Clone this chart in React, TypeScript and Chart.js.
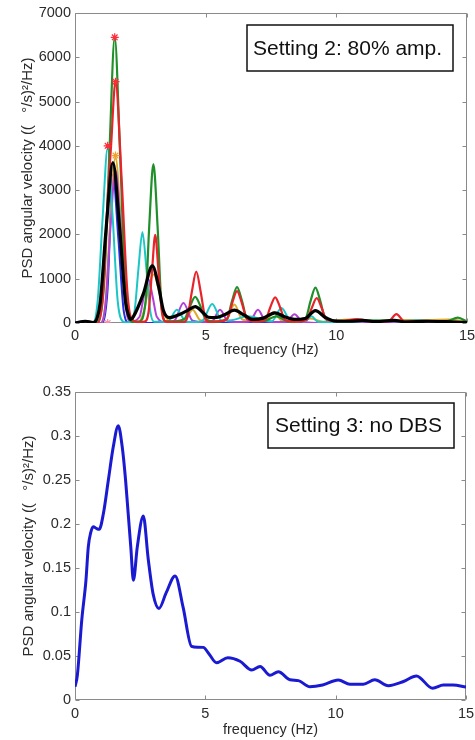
import React, { useEffect, useRef } from "react";
import { Chart, registerables } from "chart.js";

Chart.register(...registerables);

const FONT = '"Liberation Sans", Arial, Helvetica, sans-serif';
const TXT = "#2b2b2b";
const FRAME = "#8a8a8a";

// ---- shared axis data ----
const xTicks = [0, 5, 10, 15];
const topYTicks = [0, 1000, 2000, 3000, 4000, 5000, 6000, 7000];
const bottomYTicks = [0, 0.05, 0.1, 0.15, 0.2, 0.25, 0.3, 0.35];
const xTitle = "frequency (Hz)";
const yTitle = "PSD angular velocity ((   °/s)²/Hz)";
const topNote = "Setting 2: 80% amp.";
const bottomNote = "Setting 3: no DBS";

// ---- top chart (Setting 2) series ----
const blackF = [0, 0.4, 0.7, 0.84, 0.97, 1.2, 1.45, 1.7, 1.93, 2.06, 2.13, 2.23, 2.62, 2.96, 3.2, 3.38, 3.62, 3.95, 4.3, 4.6, 4.87, 5.1, 5.35, 5.7, 6.1, 6.47, 6.8, 7.2, 7.65, 8.02, 8.4, 8.8, 9.2, 9.57, 9.9, 10.5, 11, 11.5, 12.2, 12.7, 13.5, 14.2, 15];
const blackV = [0, 40, 10, 100, 490, 2200, 3620, 2200, 490, 150, 80, 140, 670, 1290, 820, 290, 120, 180, 280, 370, 250, 130, 120, 180, 290, 180, 80, 110, 230, 140, 80, 100, 280, 130, 50, 40, 60, 30, 60, 20, 40, 30, 10];

const greenF = [0, 0.8, 0.97, 1.13, 1.32, 1.52, 1.72, 1.91, 2.07, 2.22, 2.45, 2.7, 2.84, 3.0, 3.16, 3.3, 3.47, 3.8, 4.2, 4.4, 4.6, 4.8, 5.0, 5.4, 5.82, 6.01, 6.2, 6.39, 6.58, 7.2, 7.7, 8.2, 8.82, 9.01, 9.2, 9.39, 9.58, 10.2, 11, 12.3, 13.2, 14.2, 14.65, 15];
const greenV = [0, 0, 150, 1050, 3900, 6450, 3900, 1000, 120, 20, 30, 480, 2180, 3590, 2180, 480, 40, 40, 100, 380, 590, 380, 90, 30, 100, 500, 810, 500, 100, 40, 150, 30, 100, 490, 800, 490, 100, 40, 60, 50, 40, 40, 120, 30];

const redF = [0, 0.88, 1.08, 1.25, 1.38, 1.55, 1.78, 2.0, 2.16, 2.45, 2.66, 2.82, 2.95, 3.07, 3.19, 3.32, 3.48, 3.8, 4.17, 4.31, 4.47, 4.64, 4.81, 4.97, 5.12, 5.5, 5.82, 6.01, 6.2, 6.39, 6.58, 6.95, 7.28, 7.47, 7.66, 7.85, 8.04, 8.5, 8.87, 9.06, 9.25, 9.44, 9.63, 10.2, 10.8, 11.4, 12.0, 12.3, 12.6, 13.3, 14, 15];
const redV = [0, 0, 730, 2800, 4000, 5450, 3300, 730, 100, 20, 30, 270, 1200, 1990, 1200, 270, 30, 20, 20, 150, 700, 1160, 700, 150, 20, 40, 90, 440, 720, 440, 90, 30, 70, 350, 580, 350, 70, 30, 70, 340, 560, 340, 70, 40, 90, 30, 40, 200, 40, 50, 30, 20];

const cyanF = [0, 0.68, 0.87, 1.06, 1.25, 1.44, 1.63, 1.82, 1.98, 2.12, 2.28, 2.43, 2.58, 2.73, 2.88, 3.03, 3.55, 3.9, 4.25, 4.6, 4.88, 5.25, 5.62, 6.0, 6.6, 7.53, 7.9, 8.27, 8.8, 9.05, 9.3, 10, 11.5, 12.4, 13.1, 14, 15];
const cyanV = [0, 0, 520, 2400, 3950, 2400, 520, 40, 10, 30, 270, 1240, 2050, 1240, 270, 30, 30, 300, 30, 20, 50, 430, 50, 60, 150, 40, 340, 40, 40, 150, 30, 20, 50, 40, 60, 30, 20];

const magentaF = [0, 0.98, 1.17, 1.35, 1.55, 1.75, 1.93, 2.1, 2.47, 2.63, 2.8, 2.97, 3.13, 3.5, 3.8, 4.15, 4.5, 5.0, 5.25, 5.55, 5.85, 6.3, 6.7, 7.0, 7.3, 7.9, 8.1, 8.4, 8.7, 9.5, 12, 15];
const magentaV = [0, 0, 450, 2100, 3450, 2100, 450, 30, 140, 600, 1000, 600, 140, 10, 50, 450, 50, 20, 40, 300, 40, 20, 40, 300, 40, 20, 30, 200, 30, 0, 0, 0];

const yellowF = [0, 0.98, 1.17, 1.35, 1.55, 1.75, 1.93, 2.1, 2.45, 2.65, 2.83, 3.02, 3.22, 3.42, 3.72, 4.2, 4.5, 4.8, 5.4, 5.8, 6.1, 6.4, 7.0, 7.3, 7.6, 7.9, 8.5, 9.0, 9.5, 10.5, 11.3, 12.5, 13.5, 14.3, 15];
const yellowV = [0, 0, 480, 2300, 3750, 2300, 480, 30, 40, 300, 850, 1100, 700, 200, 40, 60, 300, 60, 40, 80, 420, 80, 40, 60, 250, 60, 30, 100, 30, 80, 40, 70, 70, 80, 30];

const blueF = [0, 0.4, 0.7, 1.03, 1.24, 1.45, 1.66, 1.87, 2.07, 15];
const blueV = [10, 40, 5, 0, 700, 3350, 1900, 250, 0, 0];

const markerF = [1.52, 1.55, 1.25, 1.55, 1.25];
const markerV = [6450, 5450, 4000, 3780, 0];

// ---- bottom chart (Setting 3) series ----
const noDbsF = [0, 0.09, 0.26, 0.42, 0.51, 0.6, 0.7, 0.82, 0.93, 1.09, 1.28, 1.47, 1.66, 1.81, 1.94, 2.04, 2.14, 2.24, 2.39, 2.62, 2.81, 3.0, 3.22, 3.5, 3.84, 4.15, 4.47, 4.7, 4.92, 5.15, 5.43, 5.86, 6.33, 6.78, 7.1, 7.48, 7.8, 8.25, 8.57, 9.01, 9.5, 10.1, 10.55, 11.06, 11.5, 12.02, 12.6, 13.1, 13.72, 14.13, 14.5, 15];
const noDbsV = [0.015, 0.028, 0.091, 0.136, 0.174, 0.19, 0.197, 0.195, 0.194, 0.212, 0.25, 0.288, 0.3117, 0.288, 0.25, 0.212, 0.174, 0.136, 0.174, 0.209, 0.16, 0.12, 0.104, 0.122, 0.141, 0.105, 0.061, 0.06, 0.0598, 0.052, 0.0424, 0.048, 0.044, 0.034, 0.038, 0.028, 0.032, 0.023, 0.022, 0.015, 0.017, 0.0227, 0.018, 0.018, 0.023, 0.0163, 0.021, 0.0273, 0.0133, 0.017, 0.017, 0.0147];

const zip = (f: number[], v: number[]) => f.map((x, i) => ({ x, y: v[i] }));

const lineDs = (label: string, f: number[], v: number[], color: string, width: number) => ({
  label,
  data: zip(f, v),
  borderColor: color,
  backgroundColor: color,
  borderWidth: width,
  pointRadius: 0,
  fill: false,
  cubicInterpolationMode: "monotone" as const,
});

const framePlugin = {
  id: "frame",
  beforeDatasetsDraw(chart: any) {
    const { ctx, chartArea: a, scales } = chart;
    ctx.save();
    ctx.strokeStyle = FRAME;
    ctx.lineWidth = 1;
    const L = Math.round(a.left) + 0.5;
    const R = Math.round(a.right) - 0.5;
    const T = Math.round(a.top) + 0.5;
    const B = Math.round(a.bottom) - 0.5;
    ctx.beginPath();
    ctx.rect(L, T, R - L, B - T);
    const tl = 4;
    scales.x.ticks.forEach((t: any) => {
      const px = Math.round(scales.x.getPixelForValue(t.value)) + 0.5;
      ctx.moveTo(px, B); ctx.lineTo(px, B - tl);
      ctx.moveTo(px, T); ctx.lineTo(px, T + tl);
    });
    scales.y.ticks.forEach((t: any) => {
      const py = Math.round(scales.y.getPixelForValue(t.value)) + 0.5;
      ctx.moveTo(L, py); ctx.lineTo(L + tl, py);
      ctx.moveTo(R, py); ctx.lineTo(R - tl, py);
    });
    ctx.stroke();
    ctx.restore();
  },
  afterDraw(chart: any) {
    const o = chart.options.plugins.noteBox;
    if (!o) return;
    const { ctx, chartArea: a } = chart;
    ctx.save();
    const x = a.right - o.inset - o.w;
    const y = a.top + o.top;
    ctx.fillStyle = "#ffffff";
    ctx.fillRect(x, y, o.w, o.h);
    ctx.strokeStyle = "#111";
    ctx.lineWidth = 1.5;
    ctx.strokeRect(x, y, o.w, o.h);
    ctx.fillStyle = "#111";
    ctx.font = `21px ${FONT}`;
    ctx.textBaseline = "middle";
    ctx.textAlign = "left";
    ctx.fillText(o.text, x + o.padL, y + o.h / 2 + 1);
    ctx.restore();
  },
};

function makeScales(yTicks: number[], yMax: number, xHeight: number, xTickPad: number, xTitlePad: number, yTitlePad: number) {
  const tickFont = { family: FONT, size: 14.5 };
  const yTitleFont = { family: FONT, size: 15 };
  return {
    x: {
      type: "linear" as const,
      min: 0,
      max: 15,
      afterBuildTicks: (s: any) => { s.ticks = xTicks.map((v) => ({ value: v })); },
      afterFit: (s: any) => { s.height = xHeight; s.paddingLeft = 0; s.paddingRight = 0; },
      grid: { display: false, drawTicks: false },
      border: { display: false },
      ticks: { padding: xTickPad, color: TXT, font: tickFont, maxRotation: 0, autoSkip: false, callback: (v: any) => String(v) },
      title: { display: true, text: xTitle, color: TXT, font: tickFont, padding: { top: 0, bottom: xTitlePad } },
    },
    y: {
      type: "linear" as const,
      min: 0,
      max: yMax,
      afterBuildTicks: (s: any) => { s.ticks = yTicks.map((v) => ({ value: v })); },
      afterFit: (s: any) => { s.width = 75; s.paddingTop = 0; s.paddingBottom = 0; },
      grid: { display: false, drawTicks: false },
      border: { display: false },
      ticks: { padding: 4, color: TXT, font: tickFont, autoSkip: false, callback: (v: any) => String(v) },
      title: { display: true, text: yTitle, color: TXT, font: yTitleFont, padding: { top: yTitlePad, bottom: 0 } },
    },
  };
}

function topConfig(): any {
  return {
    type: "line",
    data: {
      datasets: [
        {
          label: "peaks",
          data: zip(markerF, markerV),
          showLine: false,
          pointStyle: "star",
          pointRadius: 4,
          borderWidth: 1.2,
          pointBorderColor: ["#ff2a3a", "#ff2a3a", "#ff2a3a", "#f0a030", "#ff8aa8"],
          pointBackgroundColor: ["#ff2a3a", "#ff2a3a", "#ff2a3a", "#f0a030", "#ff8aa8"],
        },
        lineDs("black", blackF, blackV, "#000000", 3.2),
        lineDs("red", redF, redV, "#e8242a", 2.2),
        lineDs("green", greenF, greenV, "#1f8f2a", 2.2),
        lineDs("cyan", cyanF, cyanV, "#1cc6c6", 2),
        lineDs("magenta", magentaF, magentaV, "#b040d8", 2),
        lineDs("yellow", yellowF, yellowV, "#dfa92a", 2),
        lineDs("blue", blueF, blueV, "#2430e0", 2),
      ],
    },
    options: {
      responsive: false,
      maintainAspectRatio: false,
      animation: false,
      layout: { padding: { top: 13, right: 8, bottom: 0, left: 0 } },
      scales: makeScales(topYTicks, 7000, 47, 4, 11, 19),
      plugins: {
        legend: { display: false },
        tooltip: { enabled: false },
        noteBox: { text: topNote, w: 206, h: 46, inset: 14, top: 12, padL: 6 },
      },
    },
    plugins: [framePlugin],
  };
}

function bottomConfig(): any {
  return {
    type: "line",
    data: {
      datasets: [lineDs("no DBS", noDbsF, noDbsV, "#1a1ad2", 3)],
    },
    options: {
      responsive: false,
      maintainAspectRatio: false,
      animation: false,
      layout: { padding: { top: 22, right: 9, bottom: 0, left: 0 } },
      scales: makeScales(bottomYTicks, 0.35, 40, 5, 1, 20),
      plugins: {
        legend: { display: false },
        tooltip: { enabled: false },
        noteBox: { text: bottomNote, w: 186, h: 45, inset: 12, top: 11, padL: 7 },
      },
    },
    plugins: [framePlugin],
  };
}

export default function App() {
  const topRef = useRef<HTMLCanvasElement>(null);
  const botRef = useRef<HTMLCanvasElement>(null);
  useEffect(() => {
    const c1 = new Chart(topRef.current as HTMLCanvasElement, topConfig());
    const c2 = new Chart(botRef.current as HTMLCanvasElement, bottomConfig());
    return () => {
      c1.destroy();
      c2.destroy();
    };
  }, []);
  return (
    <div style={{ position: "absolute", left: 0, top: 0, width: 475, height: 740, background: "#ffffff" }}>
      <canvas ref={topRef} width={475} height={370} style={{ display: "block" }} />
      <canvas ref={botRef} width={475} height={370} style={{ display: "block" }} />
    </div>
  );
}
